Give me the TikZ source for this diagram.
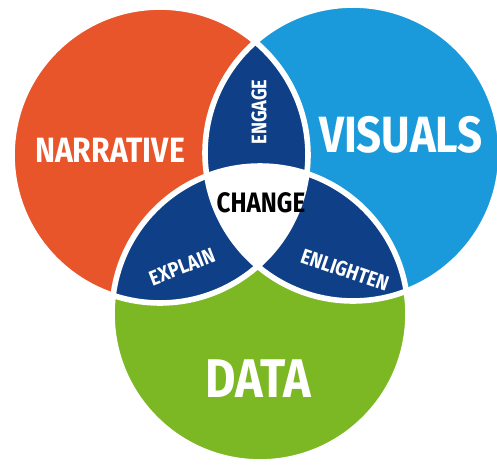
\documentclass[tikz,border=0pt]{standalone}
\usepackage{fontspec}
\setmainfont{Fira Sans}[FakeStretch=0.86]
\definecolor{narrorange}{HTML}{E9552A}
\definecolor{visblue}{HTML}{1A9ADA}
\definecolor{datagreen}{HTML}{7CB824}
\definecolor{overlapnavy}{HTML}{0F3F87}
\tikzset{
  setlabel/.style  = {text=white, inner sep=0pt, font=\bfseries\fontsize{29}{29}\selectfont},
  pairlabel/.style = {text=white, inner sep=0pt, font=\bfseries\fontsize{12}{12}\selectfont},
  rim/.style       = {draw=white, line width=3.2pt}
}

\begin{document}
\begin{tikzpicture}[x=0.02cm, y=0.02cm]
  \useasboundingbox (0,0) rectangle (497,468);
  \def\rad{2.96cm}
  \coordinate (narr) at (160,313);
  \coordinate (vis)  at (353,315);
  \coordinate (dat)  at (260,154);

  % the three sets
  \fill[narrorange] (narr) circle (\rad);
  \fill[visblue]    (vis)  circle (\rad);
  \fill[datagreen]  (dat)  circle (\rad);

  % pairwise overlaps
  \begin{scope}
    \clip (narr) circle (\rad);
    \fill[overlapnavy] (vis) circle (\rad);
    \fill[overlapnavy] (dat) circle (\rad);
  \end{scope}
  \begin{scope}
    \clip (vis) circle (\rad);
    \fill[overlapnavy] (dat) circle (\rad);
  \end{scope}

  % centre
  \begin{scope}
    \clip (narr) circle (\rad);
    \clip (vis) circle (\rad);
    \fill[white] (dat) circle (\rad);
  \end{scope}

  \draw[rim] (narr) circle (\rad);
  \draw[rim] (vis)  circle (\rad);
  \draw[rim] (dat)  circle (\rad);

  \node[setlabel, font=\bfseries\fontsize{20}{20}\selectfont] (narrlabel) at (110,318) {NARRATIVE};
  \node[setlabel] (vislabel) at (401,333) {VISUALS};
  \node[setlabel, font=\bfseries\fontsize{31}{31}\selectfont] (datlabel) at (258,89) {DATA};
  \node[pairlabel, text=black, font=\bfseries\fontsize{16}{16}\selectfont] (changelabel) at (261,265) {CHANGE};
  \node[pairlabel, rotate=90] (engagelabel) at (259,356) {ENGAGE};
  \node[pairlabel, rotate=21] (explainlabel) at (182,201) {EXPLAIN};
  \node[pairlabel, rotate=-19] (enlightenlabel) at (345,198) {ENLIGHTEN};
\end{tikzpicture}
\end{document}
